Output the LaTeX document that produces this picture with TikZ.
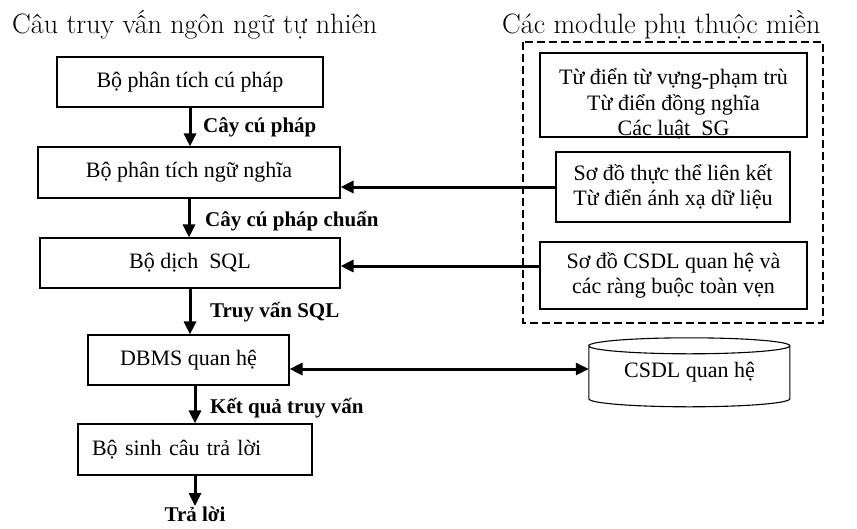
\documentclass[tikz,border=0pt]{standalone}
\usepackage{fontspec}
\setmainfont{Liberation Serif}
\newfontfamily\lmr{Latin Modern Roman}
\usetikzlibrary{arrows.meta}
\begin{document}
\begin{tikzpicture}[x=1pt,y=-1pt,
  box/.style={draw,line width=1.1pt,inner sep=0pt,font=\fontsize{22}{25.5}\selectfont,align=center},
  lbl/.style={font=\fontsize{21}{25}\selectfont\bfseries,inner sep=0pt},
  ttl/.style={font=\fontsize{28}{32}\selectfont\lmr,inner sep=0pt},
  arr/.style={line width=3pt,-{Triangle[length=13pt,width=12pt]}},
  darr/.style={line width=3pt,{Triangle[length=13pt,width=12pt]}-{Triangle[length=13pt,width=12pt]}}]
\useasboundingbox (0,0) rectangle (857,528);
% titles
\node[ttl,anchor=base west] (t1) at (12,33) {Câu truy vấn ngôn ngữ tự nhiên};
\node[ttl,anchor=base west] (t2) at (502,33) {Các module phụ thuộc miền};
% left column
\node[box,minimum width=266pt,minimum height=50pt] (b1) at (190,82) {Bộ phân tích cú pháp};
\node[box,minimum width=302pt,minimum height=51pt] (b2) at (189,172.5) {Bộ phân tích ngữ nghĩa};
\node[box,minimum width=300pt,minimum height=50pt] (b3) at (190,263) {Bộ dịch\ \ SQL};
\node[box,minimum width=201pt,minimum height=50pt] (b4) at (188.5,360) {DBMS quan hệ};
\node[box,minimum width=234pt,minimum height=51pt,text width=206pt,align=left,inner xsep=14pt] (b5) at (195,449.5) {Bộ sinh câu trả lời};
\coordinate (ans) at (195,506);
\node[lbl,anchor=north] (t5) at (195,507) {Trả lời};
% right column
\draw[line width=2.5pt,dash pattern=on 8pt off 4pt] (523,42) rectangle (823,323);
\node[box,minimum width=267pt,minimum height=84pt] (m1) at (673.5,95) {};
\node[font=\fontsize{22}{25.5}\selectfont,align=center,inner sep=0pt] (m1t) at (673.5,104) {Từ điển từ vựng-phạm trù\\Từ điển đồng nghĩa\\Các luật\ \ SG};
\node[box,minimum width=234pt,minimum height=70pt] (m2) at (673,187) {Sơ đồ thực thể liên kết\\Từ điển ánh xạ dữ liệu};
\node[box,minimum width=267pt,minimum height=67pt] (m3) at (673.5,275.5) {Sơ đồ CSDL quan hệ và\\các ràng buộc toàn vẹn};
% cylinder
\node[minimum width=201pt,minimum height=69pt,inner sep=0pt,font=\fontsize{22}{25}\selectfont] (db) at (689.5,372.5) {CSDL quan hệ};
\draw[line width=1.1pt] (db.north west) ++(0,8) arc[start angle=180,end angle=-180,x radius=100.5pt,y radius=8pt]
  -- ++(0,53) arc[start angle=180,end angle=360,x radius=100.5pt,y radius=8pt] -- ++(0,-53);
% arrows
\draw[arr] (b1.south) -- (b1.south |- b2.north);
\draw[arr] (b2.south) -- (b2.south |- b3.north);
\draw[arr] (b3.south) -- (b3.south |- b4.north);
\draw[arr] (b5.north |- b4.south) -- (b5.north);
\draw[arr] (b5.south) -- (ans);
\draw[arr] (m2.west) -- (m2.west -| b2.east);
\draw[arr] ([yshift=-3pt]b3.east -| m3.west) -- ([yshift=-3pt]b3.east);
\draw[darr] ([yshift=-9pt]b4.east) -- ([yshift=-9pt]b4.east -| db.west);
% labels
\node[lbl,anchor=base west] (l1) at (203,132) {Cây cú pháp};
\node[lbl,anchor=base west] (l2) at (205,226) {Cây cú pháp chuẩn};
\node[lbl,anchor=base west] (l3) at (210,317) {Truy vấn SQL};
\node[lbl,anchor=base west] (l4) at (210,413) {Kết quả truy vấn};
\end{tikzpicture}
\end{document}
